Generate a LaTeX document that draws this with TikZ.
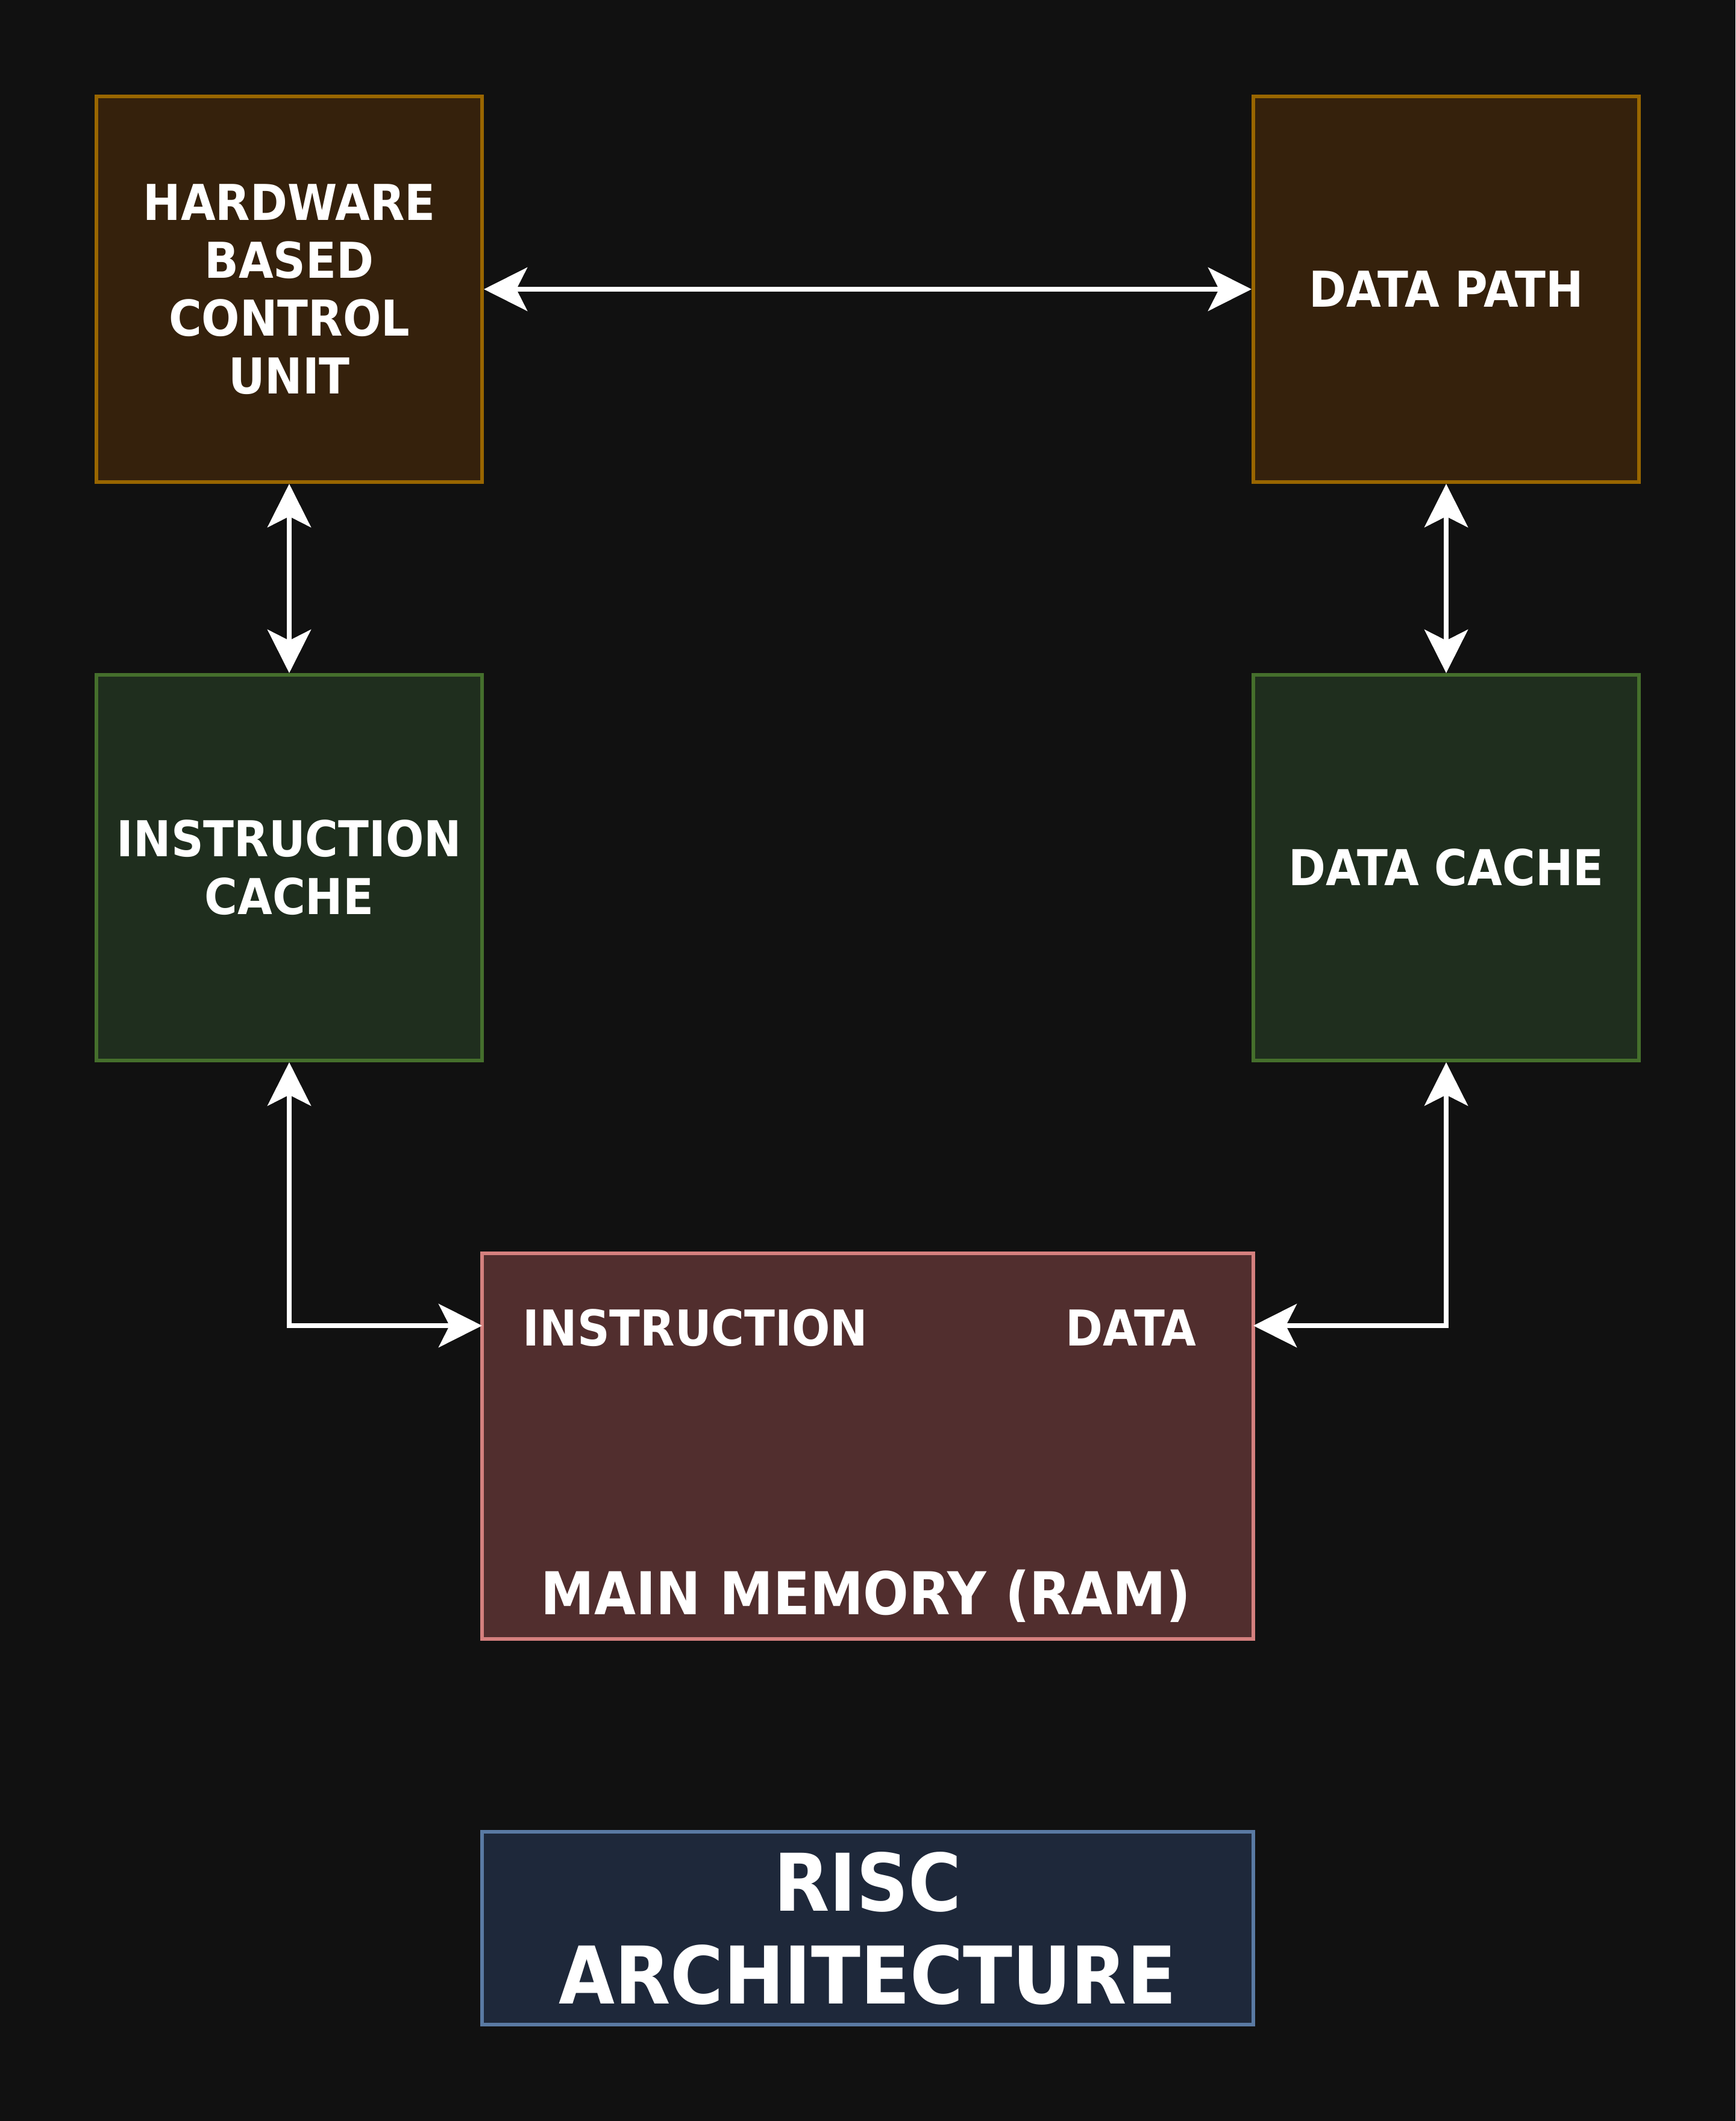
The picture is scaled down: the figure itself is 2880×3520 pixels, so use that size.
\documentclass[tikz,border=0pt]{standalone}
\usepackage{fontspec}
\setmainfont{DejaVu Sans}[FakeStretch=0.91]
\usetikzlibrary{arrows.meta}

\definecolor{bgcol}{HTML}{111111}
\definecolor{ctrlfill}{HTML}{35210C}
\definecolor{ctrldraw}{HTML}{996600}
\definecolor{cachefill}{HTML}{1F2E1E}
\definecolor{cachedraw}{HTML}{456F2C}
\definecolor{memfill}{HTML}{512E2E}
\definecolor{memdraw}{HTML}{D4807E}
\definecolor{titlefill}{HTML}{1E283A}
\definecolor{titledraw}{HTML}{5A7AA3}

\newcommand\blockfont{\bfseries\fontsize{20.5}{24}\selectfont}
\newcommand\memtitlefont{\bfseries\fontsize{24.5}{29.5}\selectfont}
\newcommand\riscfont{\bfseries\fontsize{33}{38.5}\selectfont}

\tikzset{every picture/.style={line width=0.75pt}}

\begin{document}
\begin{tikzpicture}[x=0.25pt,y=0.25pt,yscale=-1,xscale=1,
  block/.style={draw, line width=1.5pt, minimum width=160pt, minimum height=160pt,
    inner sep=0pt, text=white, align=center, font=\blockfont},
  label/.style={text=white, inner sep=0pt, align=center},
  tip/.tip={Stealth[length=18pt,width=18pt,inset=4.5pt]},
  link/.style={white, line width=2pt, tip-tip}]
	%set diagram size 2880 x 3520
	\fill [bgcol] (0,0) rectangle (2880,3520);
	\useasboundingbox (0,0) rectangle (2880,3520);

	%Shape: Rectangle [control unit]
	\node [block, fill=ctrlfill, draw=ctrldraw] (ctrl) at (480,480) {HARDWARE\\BASED\\CONTROL\\UNIT};
	%Shape: Rectangle [data path]
	\node [block, fill=ctrlfill, draw=ctrldraw] (dpath) at (2400,480) {DATA PATH};
	%Shape: Rectangle [instruction cache]
	\node [block, fill=cachefill, draw=cachedraw] (icache) at (480,1440) {INSTRUCTION\\CACHE};
	%Shape: Rectangle [data cache]
	\node [block, fill=cachefill, draw=cachedraw] (dcache) at (2400,1440) {DATA CACHE};
	%Shape: Rectangle [main memory]
	\node [block, fill=memfill, draw=memdraw, minimum width=320pt] (mem) at (1440,2400) {};
	%Shape: Rectangle [title]
	\node [block, fill=titlefill, draw=titledraw, minimum width=320pt, minimum height=80pt,
	  font=\riscfont] (risc) at (1440,3200) {RISC\\ARCHITECTURE};

	% Text Node
	\node [label, font=\blockfont] (memInstr) at (1154,2204) {INSTRUCTION};
	% Text Node
	\node [label, font=\blockfont] (memData) at (1877,2204) {DATA};
	% Text Node
	\node [label, font=\memtitlefont] (memTitle) at (1437,2649) {MAIN MEMORY (RAM)};

	\coordinate (memIn) at (800,2200);
	\coordinate (memOut) at (2080,2200);

	%Straight Lines
	\draw [link] (ctrl.east) -- (dpath.west);
	%Straight Lines
	\draw [link] (ctrl.south) -- (icache.north);
	%Straight Lines
	\draw [link] (dpath.south) -- (dcache.north);
	%Elbow Lines
	\draw [link] (icache.south) |- (memIn);
	%Elbow Lines
	\draw [link] (dcache.south) |- (memOut);

\end{tikzpicture}
\end{document}
